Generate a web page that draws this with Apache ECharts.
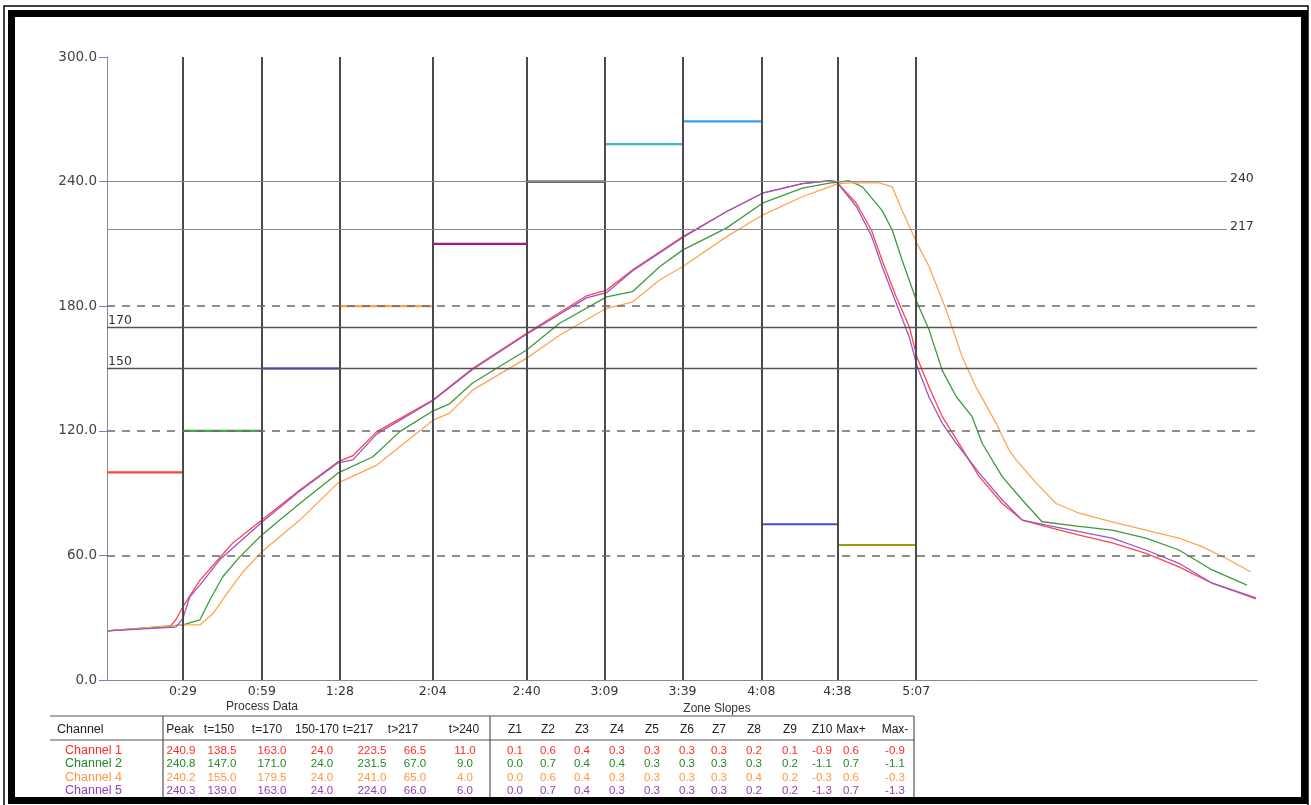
<!DOCTYPE html>
<html><head><meta charset="utf-8">
<script src="https://cdn.jsdelivr.net/npm/echarts@6/dist/echarts.min.js"></script>
<style>html,body{margin:0;padding:0;background:#fff}#c{width:1311px;height:805px}</style>
</head><body><div id="c"></div>
<script>
// ---------- data ----------
const zoneBounds = [28.8, 58.7, 88.3, 123.5, 159.1, 188.6, 218.2, 248.1, 276.9, 306.8];
const zoneLabels = ['0:29', '0:59', '1:28', '2:04', '2:40', '3:09', '3:39', '4:08', '4:38', '5:07'];
const setpoints = [100, 120, 150, 180, 210, 240, 258, 269, 75, 65];
const dashedLevels = [60, 120, 180];
const solidLevels = [170, 150];
const peakLevels = [240, 217];
const peakLineEnd = 424.6;

const ch1 = [[0,23.7],[23.9,25.7],[26.1,29],[28.8,35.3],[35.2,48],[42.8,59],[47.7,66],[58.7,77],[73.1,91.5],[87.5,105],[93.2,108],[102.3,119.6],[123.5,134.8],[138.6,150],[159.1,167],[181.8,185],[189.4,187.8],[199.2,197.4],[218.2,213.4],[234.8,225.5],[248.5,234.4],[263.6,239],[273.9,240.4],[276.5,240],[284.1,229.6],[289.8,216.7],[293.9,202],[299.2,184.5],[304.2,170],[307.2,155],[311.7,141],[316.7,126.8],[322,116],[330.7,97.9],[339.4,85],[347,77],[356.1,73.8],[368.6,69.8],[381.1,66],[393.9,61],[406.4,54.5],[419,46.6],[435.6,39]];
const ch2 = [[0,23.7],[28.8,26.5],[35.2,28.9],[39,38.5],[43.9,49.7],[50.4,59.4],[58.7,69.8],[65.5,77],[73.1,85],[87.5,99.6],[100.8,107.5],[111,119.6],[123.5,129.5],[129.9,133],[138.6,143],[159.1,158.9],[171.6,171.8],[189.4,184.5],[199.2,187],[209.5,199],[218.2,207],[234.8,217.6],[248.5,229.6],[263.6,236.9],[273.9,239.3],[281.4,240.4],[286.4,237.5],[293.9,226],[297.7,216.7],[301.5,202],[307.2,181.5],[311.7,168.5],[316.7,149],[322,136.4],[328,126.8],[331.8,114],[339.4,97.9],[347,86.7],[354.5,76.2],[368.6,74],[381.1,72.2],[393.9,68.3],[406.4,62.6],[419,53],[432.2,45.7]];
const ch4 = [[0,23.7],[28.8,26.5],[35.2,26.5],[40.2,32],[45.5,41.7],[51.5,52],[58.7,61.8],[65.5,69],[73.1,77],[87.5,94.8],[102.3,103.5],[111,112.3],[123.5,125],[129.9,128.5],[138.6,139.6],[159.1,155],[171.6,166],[189.4,179],[199.2,182],[209.5,192.6],[218.2,199],[234.8,213.4],[248.5,223.9],[263.6,232.7],[273.9,237.5],[276.5,238.8],[281.4,239.4],[292.8,239.4],[297.7,237.5],[301.5,226],[307.2,210],[311.7,199],[318.2,178],[324.2,155.7],[329.5,141],[337.1,123.6],[342,110.7],[344.7,106],[352.3,94.8],[359.8,85],[368.6,80.3],[381.1,76.2],[393.9,72.2],[406.4,68.3],[415.2,64.2],[425.4,57.8],[433.7,52]];
const ch5 = [[0,23.7],[26.1,25.5],[28.8,29.8],[31.4,40],[35.2,45.7],[42.8,58],[58.7,76],[73.1,91],[87.5,104.5],[93.2,106],[102.3,118.5],[123.5,134.5],[138.6,149.5],[159.1,166.5],[181.8,184],[189.4,186.5],[199.2,197],[218.2,213],[234.8,225.5],[248.5,234.4],[263.6,239],[273.9,240.4],[276.5,240],[284.1,228],[289.8,214],[293.9,199],[299.2,181.5],[304.2,165],[307.2,150.8],[311.7,136],[316.7,123.6],[322,114],[330.7,99.6],[339.4,86.7],[347,77],[356.1,74.6],[368.6,71.4],[381.1,68.3],[393.9,62.6],[406.4,56.2],[419,46.6],[435.6,39.5]];

const channelNames = ['Channel 1', 'Channel 2', 'Channel 4', 'Channel 5'];
const procHeaders = ['Peak', 't=150', 't=170', '150-170', 't=217', 't>217', 't>240'];
const zoneHeaders = ['Z1','Z2','Z3','Z4','Z5','Z6','Z7','Z8','Z9','Z10','Max+','Max-'];
const procValues = [
  ['240.9','138.5','163.0','24.0','223.5','66.5','11.0'],
  ['240.8','147.0','171.0','24.0','231.5','67.0','9.0'],
  ['240.2','155.0','179.5','24.0','241.0','65.0','4.0'],
  ['240.3','139.0','163.0','24.0','224.0','66.0','6.0']
];
const zoneValues = [
  ['0.1','0.6','0.4','0.3','0.3','0.3','0.3','0.2','0.1','-0.9','0.6','-0.9'],
  ['0.0','0.7','0.4','0.4','0.3','0.3','0.3','0.3','0.2','-1.1','0.7','-1.1'],
  ['0.0','0.6','0.4','0.3','0.3','0.3','0.3','0.4','0.2','-0.3','0.6','-0.3'],
  ['0.0','0.7','0.4','0.3','0.3','0.3','0.3','0.2','0.2','-1.3','0.7','-1.3']
];

// ---------- styles ----------
const curveColors = ['#ff4646', '#3d9a3d', '#ffa452', '#9b55c6'];
const textColors = ['#ff2a2a', '#238a23', '#ff9640', '#9440b4'];
const spColors = ['#ff4040', '#44aa44', '#1a1aff', '#ffa050', '#9a189a', '#333333', '#3ab8c8', '#3a9cf0', '#4a4ad0', '#9a9a10'];
const FONT = 'DejaVu Sans';
const TFONT = 'Liberation Sans';

const chart = echarts.init(document.getElementById('c'), null, {renderer: 'canvas'});

const series = [];
series.push({
  type: 'line', data: [], silent: true, z: 1,
  markLine: {
    silent: true, symbol: ['none', 'none'], animation: false,
    data: [
      ...zoneBounds.map(b => ({xAxis: b, lineStyle: {color: '#4a4a4a', width: 2, type: 'solid'}, label: {show: false}})),
      ...dashedLevels.map(v => ({yAxis: v, lineStyle: {color: '#6a6a6a', width: 1.5, type: [8, 7]}, label: {show: false}})),
      ...solidLevels.map(v => ({yAxis: v, lineStyle: {color: '#555', width: 1.3, type: 'solid'},
        label: {show: true, position: 'insideStartTop', distance: [1, 0], formatter: String(v), color: '#333', fontSize: 12.5, fontFamily: FONT}})),
      ...peakLevels.map(v => ([
        {coord: [0, v], lineStyle: {color: '#8a8a8a', width: 1.2, type: 'solid'},
         label: {show: true, position: 'end', distance: 3, formatter: String(v), color: '#333', fontSize: 12.5, fontFamily: FONT, offset: [0, -3]}},
        {coord: [peakLineEnd, v]}
      ]))
    ]
  }
});
setpoints.forEach((sp, i) => {
  const start = i === 0 ? 0 : zoneBounds[i - 1];
  series.push({
    type: 'line', silent: true, showSymbol: false, animation: false, z: 3,
    data: [[start, sp], [zoneBounds[i], sp]],
    lineStyle: {color: spColors[i], width: 2.2}
  });
});
[ch1, ch2, ch4, ch5].forEach((d, i) => {
  series.push({
    type: 'line', name: channelNames[i], data: d, showSymbol: false, animation: false, z: 4,
    lineStyle: {color: curveColors[i], width: 1.3}
  });
});

const g = [];
const rowY = [751, 764, 777.5, 791];
const procHeaderX = [180, 219, 267, 317, 358, 403, 464];
const procValueX = [181, 222, 272, 322, 372, 415, 465];
const zoneX = [515, 548, 582, 617, 652, 687, 719, 754, 790, 822, 851, 895];
const line = (x1, y1, x2, y2, w, c) => ({type: 'line', shape: {x1, y1, x2, y2}, style: {stroke: c || '#555', lineWidth: w || 1}, silent: true});
const txt = (x, y, t, c, size, align) => ({type: 'text', x, y, style: {text: t, fill: c, font: (size || 11) + 'px "' + TFONT + '"', textAlign: align || 'center', textVerticalAlign: 'middle'}, silent: true});
g.push(txt(262, 707, 'Process Data', '#333', 12));
g.push(txt(717, 709, 'Zone Slopes', '#333', 12));
g.push(line(50, 716, 914, 716, 1.2));
g.push(line(50, 740, 914, 740, 1.2));
g.push(line(163, 716, 163, 797, 1.2));
g.push(line(490, 716, 490, 797, 1.2));
g.push(line(914, 716, 914, 797, 1.2));
g.push(txt(57, 730, 'Channel', '#222', 12.5, 'left'));
procHeaders.forEach((h, i) => g.push(txt(procHeaderX[i], 730, h, '#222', 12)));
zoneHeaders.forEach((h, i) => g.push(txt(zoneX[i], 730, h, '#222', 12)));
channelNames.forEach((n, r) => {
  g.push(txt(65, rowY[r], n, textColors[r], 12.5, 'left'));
  procValues[r].forEach((v, i) => g.push(txt(procValueX[i], rowY[r], v, textColors[r], 11.5)));
  zoneValues[r].forEach((v, i) => g.push(txt(zoneX[i], rowY[r], v, textColors[r], 11.5)));
});
g.push({type: 'rect', shape: {x: 4, y: 6, width: 1304, height: 800}, style: {fill: 'none', stroke: '#000', lineWidth: 1.5}, silent: true});
g.push({type: 'rect', shape: {x: 11.5, y: 13.5, width: 1293, height: 787}, style: {fill: 'none', stroke: '#000', lineWidth: 7}, silent: true});

chart.setOption({
  animation: false,
  backgroundColor: '#fff',
  grid: {left: 107, right: 54, top: 57, bottom: 125, containLabel: false},
  xAxis: {
    type: 'value', min: 0, max: 436,
    axisLine: {show: true, lineStyle: {color: '#8a8a8a', width: 1}},
    axisTick: {show: false},
    splitLine: {show: false},
    axisLabel: {
      customValues: zoneBounds, showMinLabel: true, showMaxLabel: true, hideOverlap: false,
      formatter: v => { const k = zoneBounds.indexOf(v); return k >= 0 ? zoneLabels[k] : ''; },
      color: '#333', fontSize: 12.5, fontFamily: FONT, margin: 5
    }
  },
  yAxis: {
    type: 'value', min: 0, max: 300, interval: 60,
    axisLine: {show: true, lineStyle: {color: '#8a8a8a', width: 1}},
    axisTick: {show: true, length: 8, lineStyle: {color: '#7a7acc', width: 1}},
    splitLine: {show: false},
    axisLabel: {formatter: v => v.toFixed(1), color: '#444', fontSize: 13.5, fontFamily: FONT, margin: 10}
  },
  series,
  graphic: g
});
</script></body></html>
